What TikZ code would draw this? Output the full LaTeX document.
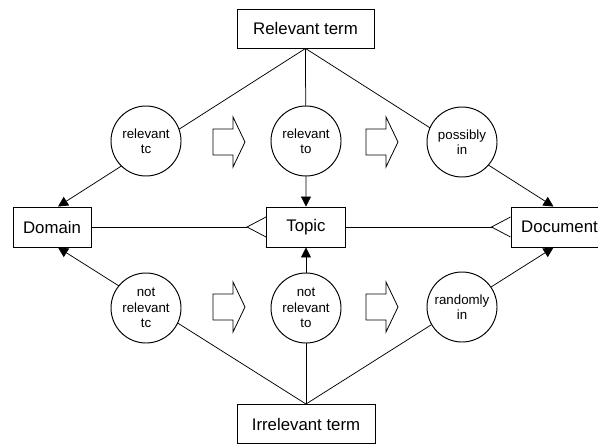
\documentclass[tikz,border=0pt]{standalone}
\usepackage{fontspec}
\setmainfont{Liberation Sans}
\usetikzlibrary{arrows.meta}

\begin{document}
\begin{tikzpicture}[x=1pt,y=1pt,yscale=-1,
  termbox/.style={draw,line width=0.95pt,inner sep=0pt,minimum height=40pt,font=\fontsize{16.8}{19}\selectfont},
  relcircle/.style={circle,draw,line width=0.95pt,fill=white,inner sep=0pt,minimum size=70pt,align=center,font=\fontsize{13.3}{15.5}\selectfont},
  link/.style={line width=0.75pt},
  linkarrow/.style={link,-{Triangle[length=10pt,width=10pt]}},
  fatarrow/.pic={\draw[line width=0.8pt] (-16,-13) -- (4,-13) -- (4,-25) -- (16,0) -- (4,25) -- (4,13) -- (-16,13) -- cycle;}]
\useasboundingbox (0,0) rectangle (598,444);
% Term boxes
\node[termbox,minimum width=137pt,minimum height=39pt] (rel) at (305.5,28.5) {Relevant term};
\node[termbox,minimum width=138pt,minimum height=39pt] (irr) at (306,424) {Irrelevant term};
\node[termbox,minimum width=78pt] (dom) at (52,227) {Domain};
\node[termbox,minimum width=79pt] (top) at (306,227) {Topic};
\node[termbox,minimum width=97pt] (doc) at (559.5,227) {Document};
% Lines from the terms
\draw[linkarrow] (rel.south) -- ([xshift=6pt]dom.north);
\draw[linkarrow] (rel.south) -- (top.north);
\draw[linkarrow] (rel.south) -- ([xshift=-6pt]doc.north);
\draw[linkarrow] (irr.north) -- ([xshift=6pt]dom.south);
\draw[linkarrow] (irr.north) -- (top.south);
\draw[linkarrow] (irr.north) -- ([xshift=-6pt]doc.south);
% Crow's feet
\draw[link] (dom.east) -- ([xshift=-19pt]top.west);
\draw[link] ([yshift=10pt]top.west) -- ([xshift=-19pt]top.west) -- ([yshift=-10pt]top.west);
\draw[link] (top.east) -- ([xshift=-19pt]doc.west);
\draw[link] ([yshift=10pt]doc.west) -- ([xshift=-19pt]doc.west) -- ([yshift=-10pt]doc.west);
% Relation circles
\node[relcircle] (rtc) at (146,141) {relevant\\tc};
\node[relcircle] (rto) at (306,141) {relevant\\to};
\node[relcircle] (pin) at (462,142) {possibly\\in};
\node[relcircle] (nrtc) at (146,308) {not\\relevant\\tc};
\node[relcircle] (nrto) at (306,308) {not\\relevant\\to};
\node[relcircle] (rin) at (462,307) {randomly\\in};
% Block arrows
\pic at (229,142) {fatarrow};
\pic at (382,142) {fatarrow};
\pic at (229,307) {fatarrow};
\pic at (382,307) {fatarrow};
\end{tikzpicture}
\end{document}
